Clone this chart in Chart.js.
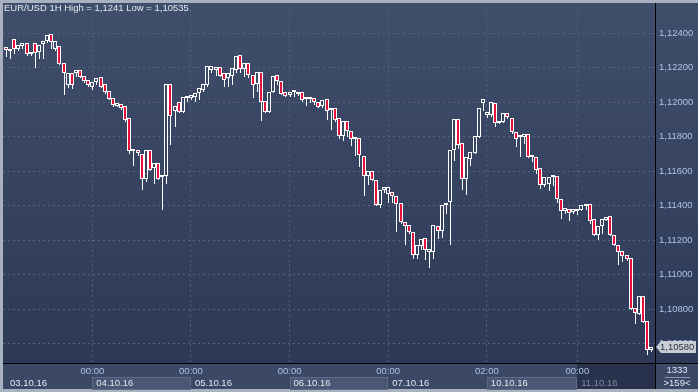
<!doctype html>
<html>
<head>
<meta charset="utf-8">
<title>EUR/USD 1H</title>
<script src="https://cdn.jsdelivr.net/npm/chart.js@4.4.1/dist/chart.umd.min.js"></script>
<style>
  html, body { margin: 0; padding: 0; background: #a9b1c1; }
  canvas { display: block; }
</style>
</head>
<body>
<canvas id="c" width="698" height="392"></canvas>
<script>
// hourly candles, 03.10.16 03:00 .. 11.10.16 18:00
var openV = [
  1.12320, 1.12298, 1.12366, 1.12309, 1.12326, 1.12343, 1.12281, 1.12343, 1.12292, 1.12337,
  1.12354, 1.12394, 1.12309, 1.12326, 1.12229, 1.12098, 1.12172, 1.12172, 1.12189, 1.12150,
  1.12127, 1.12087, 1.12115, 1.12144, 1.12104, 1.12064, 1.12024, 1.11979, 1.11990, 1.11979,
  1.11911, 1.11717, 1.11723, 1.11700, 1.11558, 1.11723, 1.11620, 1.11649, 1.11564, 1.11575,
  1.12104, 1.11950, 1.12002, 1.11945, 1.12024, 1.12024, 1.12030, 1.12053, 1.12070, 1.12098,
  1.12189, 1.12189, 1.12207, 1.12167, 1.12138, 1.12150, 1.12189, 1.12275, 1.12195, 1.12229,
  1.12161, 1.12104, 1.12178, 1.12007, 1.11945, 1.12059, 1.12161, 1.12121, 1.12059, 1.12042,
  1.12059, 1.12047, 1.12059, 1.12019, 1.12019, 1.12024, 1.12002, 1.11979, 1.12019, 1.11956,
  1.11968, 1.11911, 1.11803, 1.11894, 1.11831, 1.11785, 1.11791, 1.11689, 1.11575, 1.11603,
  1.11552, 1.11404, 1.11490, 1.11467, 1.11478, 1.11455, 1.11416, 1.11308, 1.11290, 1.11245,
  1.11114, 1.11165, 1.11211, 1.11131, 1.11131, 1.11285, 1.11251, 1.11404, 1.11421, 1.11723,
  1.11905, 1.11763, 1.11558, 1.11672, 1.11706, 1.11797, 1.11996, 1.11928, 1.11928, 1.11996,
  1.11882, 1.11888, 1.11939, 1.11911, 1.11825, 1.11797, 1.11797, 1.11814, 1.11683, 1.11683,
  1.11620, 1.11518, 1.11529, 1.11569, 1.11575, 1.11438, 1.11370, 1.11381, 1.11364, 1.11370,
  1.11376, 1.11399, 1.11410, 1.11325, 1.11228, 1.11285, 1.11319, 1.11342, 1.11228, 1.11171,
  1.11137, 1.11114, 1.11097, 1.10807, 1.10773, 1.10875, 1.10733, 1.10562
];
var highV = [
  1.12337, 1.12309, 1.12400, 1.12349, 1.12349, 1.12383, 1.12309, 1.12400, 1.12366, 1.12383,
  1.12410, 1.12406, 1.12366, 1.12332, 1.12235, 1.12201, 1.12184, 1.12195, 1.12195, 1.12167,
  1.12138, 1.12138, 1.12150, 1.12155, 1.12110, 1.12104, 1.12030, 1.12002, 1.12002, 1.11985,
  1.11916, 1.11763, 1.11797, 1.11712, 1.11729, 1.11729, 1.11740, 1.11694, 1.11603, 1.12372,
  1.12144, 1.12070, 1.12024, 1.12070, 1.12059, 1.12070, 1.12064, 1.12098, 1.12127, 1.12269,
  1.12275, 1.12224, 1.12252, 1.12172, 1.12184, 1.12275, 1.12281, 1.12320, 1.12241, 1.12269,
  1.12195, 1.12195, 1.12184, 1.12115, 1.12081, 1.12207, 1.12172, 1.12167, 1.12064, 1.12070,
  1.12087, 1.12115, 1.12098, 1.12030, 1.12047, 1.12059, 1.12013, 1.12024, 1.12024, 1.11973,
  1.12098, 1.11916, 1.11916, 1.11916, 1.11882, 1.11854, 1.11865, 1.11729, 1.11649, 1.11632,
  1.11558, 1.11495, 1.11547, 1.11518, 1.11490, 1.11512, 1.11455, 1.11342, 1.11342, 1.11285,
  1.11177, 1.11216, 1.11256, 1.11160, 1.11325, 1.11308, 1.11433, 1.11450, 1.11797, 1.12059,
  1.11990, 1.11803, 1.11689, 1.11740, 1.11814, 1.11985, 1.12024, 1.11950, 1.12007, 1.12002,
  1.11939, 1.11945, 1.11956, 1.11922, 1.11871, 1.11814, 1.11859, 1.11820, 1.11706, 1.11700,
  1.11626, 1.11575, 1.11649, 1.11592, 1.11581, 1.11444, 1.11410, 1.11393, 1.11393, 1.11399,
  1.11416, 1.11427, 1.11416, 1.11342, 1.11290, 1.11330, 1.11376, 1.11353, 1.11234, 1.11256,
  1.11171, 1.11171, 1.11103, 1.10864, 1.10943, 1.10972, 1.10807, 1.10591
];
var lowV = [
  1.12263, 1.12252, 1.12281, 1.12298, 1.12309, 1.12269, 1.12269, 1.12201, 1.12252, 1.12252,
  1.12343, 1.12309, 1.12298, 1.12218, 1.12042, 1.12081, 1.12076, 1.12144, 1.12138, 1.12110,
  1.12087, 1.12070, 1.12098, 1.12081, 1.12047, 1.12013, 1.11973, 1.11973, 1.11956, 1.11888,
  1.11700, 1.11632, 1.11689, 1.11490, 1.11535, 1.11603, 1.11529, 1.11552, 1.11376, 1.11524,
  1.11751, 1.11859, 1.11939, 1.11939, 1.12002, 1.12013, 1.12002, 1.12013, 1.12059, 1.12087,
  1.12172, 1.12155, 1.12144, 1.12087, 1.12087, 1.12098, 1.12167, 1.12172, 1.12144, 1.12138,
  1.12024, 1.12059, 1.11894, 1.11939, 1.11939, 1.12053, 1.12098, 1.12042, 1.12030, 1.12030,
  1.12030, 1.12036, 1.12002, 1.11979, 1.11996, 1.11985, 1.11968, 1.11968, 1.11899, 1.11842,
  1.11888, 1.11785, 1.11774, 1.11797, 1.11746, 1.11689, 1.11626, 1.11455, 1.11518, 1.11541,
  1.11399, 1.11387, 1.11473, 1.11416, 1.11416, 1.11245, 1.11296, 1.11171, 1.11239, 1.11091,
  1.11091, 1.11143, 1.11086, 1.11040, 1.11091, 1.11205, 1.11211, 1.11353, 1.11171, 1.11660,
  1.11729, 1.11490, 1.11461, 1.11632, 1.11700, 1.11791, 1.11950, 1.11911, 1.11916, 1.11854,
  1.11877, 1.11882, 1.11905, 1.11814, 1.11740, 1.11683, 1.11757, 1.11677, 1.11655, 1.11586,
  1.11495, 1.11507, 1.11484, 1.11512, 1.11416, 1.11325, 1.11353, 1.11313, 1.11353, 1.11347,
  1.11370, 1.11376, 1.11296, 1.11222, 1.11199, 1.11234, 1.11313, 1.11222, 1.11165, 1.11057,
  1.11074, 1.11080, 1.10795, 1.10716, 1.10767, 1.10721, 1.10535, 1.10551
];
var closeV = [
  1.12303, 1.12303, 1.12309, 1.12332, 1.12343, 1.12281, 1.12292, 1.12286, 1.12332, 1.12354,
  1.12389, 1.12349, 1.12354, 1.12224, 1.12167, 1.12167, 1.12098, 1.12189, 1.12144, 1.12121,
  1.12098, 1.12115, 1.12138, 1.12087, 1.12059, 1.12019, 1.11985, 1.11996, 1.11968, 1.11899,
  1.11717, 1.11723, 1.11706, 1.11558, 1.11723, 1.11609, 1.11649, 1.11558, 1.11581, 1.12104,
  1.11922, 1.11979, 1.11945, 1.12030, 1.12036, 1.12042, 1.12053, 1.12081, 1.12104, 1.12212,
  1.12212, 1.12207, 1.12150, 1.12127, 1.12167, 1.12201, 1.12269, 1.12195, 1.12229, 1.12161,
  1.12098, 1.12178, 1.12002, 1.11945, 1.12059, 1.12155, 1.12121, 1.12047, 1.12036, 1.12059,
  1.12064, 1.12059, 1.12013, 1.12024, 1.12024, 1.12002, 1.11973, 1.12013, 1.11950, 1.11968,
  1.11899, 1.11803, 1.11894, 1.11831, 1.11785, 1.11797, 1.11694, 1.11575, 1.11603, 1.11547,
  1.11404, 1.11490, 1.11507, 1.11507, 1.11455, 1.11410, 1.11308, 1.11285, 1.11245, 1.11114,
  1.11171, 1.11205, 1.11143, 1.11148, 1.11290, 1.11251, 1.11404, 1.11416, 1.11723, 1.11905,
  1.11751, 1.11558, 1.11683, 1.11712, 1.11803, 1.11968, 1.12019, 1.11945, 1.12002, 1.11882,
  1.11888, 1.11939, 1.11916, 1.11825, 1.11785, 1.11808, 1.11814, 1.11683, 1.11689, 1.11609,
  1.11518, 1.11569, 1.11569, 1.11575, 1.11438, 1.11370, 1.11387, 1.11359, 1.11381, 1.11381,
  1.11404, 1.11404, 1.11313, 1.11228, 1.11285, 1.11325, 1.11336, 1.11228, 1.11171, 1.11131,
  1.11108, 1.11091, 1.10801, 1.10778, 1.10875, 1.10727, 1.10562, 1.10580
];

var xTickIdx = [21, 45, 69, 93, 117, 139];
var xTickLabels = ['00:00', '00:00', '00:00', '00:00', '02:00', '00:00'];
var dateLabels = ['03.10.16', '04.10.16', '05.10.16', '06.10.16', '07.10.16', '10.10.16', '11.10.16'];
var dateStartIdx = [null, 21, 45, 69, 93, 117, 139];
var yTicks = [1.106, 1.108, 1.110, 1.112, 1.114, 1.116, 1.118, 1.120, 1.122, 1.124];
var titleText = 'EUR/USD 1H High = 1,1241 Low = 1,10535';
var barsTotal = '1333';
var barsShown = '>159<';

var fmt = function (v) { return v.toFixed(5).replace('.', ','); };
var FONT = 'Liberation Sans';
var FSIZE = 9.5;

var bodies = [], upper = [], lower = [], bodyColors = [];
for (var i = 0; i < openV.length; i++) {
  var top = Math.max(openV[i], closeV[i]);
  var bot = Math.min(openV[i], closeV[i]);
  bodies.push({ x: i, y: [openV[i], closeV[i]] });
  upper.push({ x: i, y: [top, highV[i]] });
  lower.push({ x: i, y: [lowV[i], bot] });
  bodyColors.push(closeV[i] < openV[i] ? '#e3113b' : 'rgba(0,0,0,0)');
}

var backPlugin = {
  id: 'back',
  beforeDraw: function (chart) {
    var c = chart.ctx, xs = chart.scales.x;
    c.save();
    c.fillStyle = '#a9b1c1';
    c.fillRect(0, 0, 698, 392);
    var g = c.createLinearGradient(0, 3, 0, 363);
    g.addColorStop(0, '#3f4e6b');
    g.addColorStop(1, '#2d3957');
    c.fillStyle = g;
    c.fillRect(3, 3, 695, 360);
    c.fillStyle = '#3b4866';
    c.fillRect(3, 364, 695, 25);
    // alternating day boxes
    for (var k = 1; k < dateLabels.length; k++) {
      var x0 = Math.round(xs.getPixelForValue(dateStartIdx[k]));
      var x1 = k + 1 < dateLabels.length ? Math.round(xs.getPixelForValue(dateStartIdx[k + 1])) : 655;
      if (k === dateLabels.length - 1) {
        c.fillStyle = '#28324c';
        c.fillRect(x0, 364, x1 - x0, 25);
      } else if (k % 2 === 1) {
        c.fillStyle = '#4a5774';
        c.fillRect(x0, 377, x1 - x0, 12);
        c.strokeStyle = '#5e6b87';
        c.lineWidth = 1;
        c.strokeRect(x0 + 0.5, 377.5, x1 - x0 - 1, 12);
      }
    }
    c.restore();
  }
};

// snap candle parts to whole pixels so the 1px wicks and borders stay crisp
var snapPlugin = {
  id: 'snap',
  beforeDatasetsDraw: function (chart) {
    chart.data.datasets.forEach(function (ds, d) {
      chart.getDatasetMeta(d).data.forEach(function (el) {
        var cx = Math.round(el.x);
        el.x = d === 0 ? cx : cx + 0.5;
        el.y = Math.round(el.y);
        el.base = Math.round(el.base);
      });
    });
  }
};

var overPlugin = {
  id: 'over',
  afterDraw: function (chart) {
    var c = chart.ctx, xs = chart.scales.x, ys = chart.scales.y;
    c.save();
    c.fillStyle = '#000';
    c.fillRect(3, 363, 695, 1);
    c.fillRect(655, 3, 1, 386);

    c.font = FSIZE + 'px "' + FONT + '"';
    c.textBaseline = 'middle';
    c.textAlign = 'left';
    c.fillStyle = '#e4e9f1';
    c.fillText(titleText, 4, 8.5);

    for (var k = 0; k < dateLabels.length; k++) {
      var x = k === 0 ? 10 : xs.getPixelForValue(dateStartIdx[k]) + 4;
      c.fillStyle = k === dateLabels.length - 1 ? '#7f899c' : '#e2e8f0';
      c.fillText(dateLabels[k], x, 383);
    }

    // last price tag
    var last = closeV[closeV.length - 1];
    var py = Math.round(ys.getPixelForValue(last));
    c.beginPath();
    c.moveTo(656, py);
    c.lineTo(661, py - 6);
    c.lineTo(696, py - 6);
    c.lineTo(696, py + 6);
    c.lineTo(661, py + 6);
    c.closePath();
    c.fillStyle = '#c9cdd5';
    c.fill();
    c.fillStyle = '#2b3242';
    c.fillText(fmt(last), 660, py + 0.5);

    c.textAlign = 'center';
    c.fillStyle = '#dfe6f2';
    c.fillText(barsTotal, 677, 370);
    c.fillText(barsShown, 677, 383);
    c.fillStyle = '#8c98b0';
    c.fillRect(665, 377, 25, 1);
    c.restore();
  }
};

var gridOpts = { color: '#56637f', lineWidth: 1, drawTicks: false, offset: false };
var borderOpts = { display: false, dash: [2, 3] };

new Chart(document.getElementById('c').getContext('2d'), {
  type: 'bar',
  data: {
    datasets: [
      { data: bodies, backgroundColor: bodyColors, borderColor: '#ffffff', borderWidth: 1,
        borderSkipped: false, barThickness: 4, minBarLength: 2, grouped: false, inflateAmount: 0 },
      { data: upper, backgroundColor: '#ffffff', borderWidth: 0, barThickness: 1,
        grouped: false, inflateAmount: 0 },
      { data: lower, backgroundColor: '#ffffff', borderWidth: 0, barThickness: 1,
        grouped: false, inflateAmount: 0 }
    ]
  },
  options: {
    responsive: false,
    animation: false,
    devicePixelRatio: 1,
    layout: { padding: { left: 3, top: 3, right: 0, bottom: 0 } },
    plugins: { legend: { display: false }, tooltip: { enabled: false } },
    scales: {
      x: {
        type: 'linear', min: -0.73, max: 157.91, position: 'bottom', offset: false,
        afterFit: function (s) { s.height = 29; },
        afterBuildTicks: function (s) { s.ticks = xTickIdx.map(function (v) { return { value: v }; }); },
        grid: gridOpts, border: borderOpts,
        ticks: {
          color: '#aac5ea', font: { family: FONT, size: FSIZE }, padding: 3,
          maxRotation: 0, autoSkip: false,
          callback: function (v, idx) { return xTickLabels[idx]; }
        }
      },
      y: {
        position: 'right', min: 1.10488, max: 1.12537,
        afterFit: function (s) { s.width = 43; },
        afterBuildTicks: function (s) { s.ticks = yTicks.map(function (v) { return { value: v }; }); },
        grid: gridOpts, border: borderOpts,
        ticks: {
          color: '#aac5ea', font: { family: FONT, size: FSIZE }, padding: 4,
          callback: function (v) { return fmt(v); }
        }
      }
    }
  },
  plugins: [backPlugin, snapPlugin, overPlugin]
});
</script>
</body>
</html>
